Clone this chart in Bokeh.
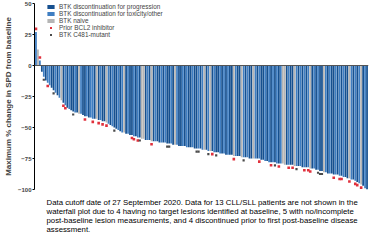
from bokeh.plotting import figure
from bokeh.models import Range1d, Span, Title, Legend, LegendItem, ColumnDataSource, FixedTicker
from bokeh.embed import file_html
from bokeh.resources import INLINE

# ---- data ----
values = [
    27, 13, 4, -5, -9, -12, -14, -16, -18, -20,
    -22, -24, -26, -28, -30, -32, -34, -35, -36, -37,
    -38, -38, -39, -39, -40, -41, -41, -42, -42, -43,
    -43, -43, -44, -44, -45, -45, -46, -47, -48, -49,
    -50, -51, -52, -53, -54, -54, -55, -55, -56, -56,
    -57, -57, -58, -58, -59, -59, -60, -60, -60, -61,
    -61, -61, -61, -62, -62, -62, -62, -63, -63, -63,
    -64, -64, -64, -65, -65, -65, -65, -66, -66, -66,
    -66, -67, -67, -67, -67, -68, -68, -68, -69, -69,
    -69, -70, -70, -70, -71, -71, -71, -72, -72, -72,
    -72, -73, -73, -73, -73, -74, -74, -74, -74, -75,
    -75, -75, -75, -75, -75, -76, -76, -77, -77, -78,
    -78, -78, -78, -79, -79, -79, -79, -80, -80, -80,
    -80, -80, -81, -81, -81, -81, -82, -82, -82, -82,
    -83, -83, -83, -84, -84, -85, -85, -86, -86, -87,
    -87, -87, -88, -88, -88, -89, -89, -90, -90, -91,
    -91, -92, -92, -93, -94, -95, -96, -97, -99, -100,
]
groups = list(
    "TNTPTPTTPP" "TPTNPTPTPP" "TPNTPPTPTT" "PNPTPPNTPT" "PPTPTNPTPP"
    "TPTPNNPTPN" "PTPPTPTPPT" "PNTPPTPTPP" "TPPTPTNPTN" "PTPPTPTPTP"
    "PNTPPNTPTP" "PNTPTPPTPT" "PTPTPTNNPT" "PPNTPTPTPT" "NPTPTPPNTP"
    "TPPTPTPTPP" "NTPTPTNPTP"
)
bcl2_idx = [0, 2, 6, 14, 15, 25, 29, 32, 34, 36, 49, 50, 52, 59, 90, 101, 114,
            120, 124, 129, 131, 137, 139, 140, 152, 155, 156, 160, 163, 164, 166]
c481_idx = [4, 9, 19, 40, 53, 67, 68, 82, 83, 88, 92, 106, 122, 133, 144, 145, 146]
y_ticks = [50, 25, 0, -25, -50, -75, -100]
group_keys = ["P", "T", "N"]
group_labels = ["BTK discontinuation for progression",
                "BTK discontinuation for toxicity/other",
                "BTK naive"]
marker_labels = ["Prior BCL2 inhibitor", "BTK C481-mutant"]
y_title = "Maximum % change in SPD from baseline"
footnote_lines = [
    "Data cutoff date of 27 September 2020. Data for 13 CLL/SLL patients are not shown in the",
    "waterfall plot due to 4 having no target lesions identified at baseline, 5 with no/incomplete",
    "post-baseline lesion measurements, and 4 discontinued prior to first post-baseline disease",
    "assessment.",
]

# ---- styles ----
COLORS = {"P": "#16508f", "T": "#3f7ec2", "N": "#b5b5b5"}
RED = "#e0303c"
DARK = "#4a4a4a"
FONT = "Liberation Sans"
n = len(values)

p = figure(width=369, height=240, output_backend="svg", toolbar_location=None,
           x_range=Range1d(-0.75, n - 0.25), y_range=Range1d(-100, 50),
           min_border_left=27, min_border_right=1, min_border_top=3, min_border_bottom=51)
p.outline_line_color = None
p.xgrid.visible = False
p.ygrid.visible = False
p.xaxis.visible = False

items = []
for key, lab in zip(group_keys, group_labels):
    idx = [i for i in range(n) if groups[i] == key]
    src = ColumnDataSource(dict(x=idx, top=[values[i] for i in idx]))
    r = p.vbar(x="x", top="top", bottom=0, width=0.9, source=src,
               fill_color=COLORS[key], line_color=None)
    items.append(LegendItem(label=lab, renderers=[r]))

def mark_y(i):
    return values[i] + 2.5 if values[i] > 0 else values[i] - 2.5

r1 = p.scatter(x=bcl2_idx, y=[mark_y(i) for i in bcl2_idx], marker="square",
               size=2.6, fill_color=RED, line_color=None)
r2 = p.scatter(x=c481_idx, y=[mark_y(i) for i in c481_idx], marker="square",
               size=2.2, fill_color=DARK, line_color=None)
items.append(LegendItem(label=marker_labels[0], renderers=[r1]))
items.append(LegendItem(label=marker_labels[1], renderers=[r2]))

p.add_layout(Span(location=0, dimension="width", line_color="#555555", line_width=1))

ax = p.yaxis[0]
ax.ticker = FixedTicker(ticks=y_ticks)
ax.axis_label = y_title
ax.axis_label_text_font = FONT
ax.axis_label_text_font_style = "bold"
ax.axis_label_text_font_size = "8px"
ax.axis_label_standoff = 2
ax.major_label_text_font = FONT
ax.major_label_text_font_style = "bold"
ax.major_label_text_font_size = "6px"
ax.major_label_standoff = 1
ax.major_tick_out = 2
ax.major_tick_in = 0
ax.minor_tick_out = 0
ax.minor_tick_in = 0
ax.axis_line_color = "black"
ax.major_tick_line_color = "black"

legend = Legend(items=items, location=(12, 151), label_text_font=FONT,
                label_text_font_size="6.4px", glyph_height=5, glyph_width=9,
                label_height=5, spacing=0, padding=0, margin=0, label_standoff=4,
                border_line_alpha=0, background_fill_alpha=0)
p.add_layout(legend)

p.add_layout(Title(text="\n".join(footnote_lines), align="left", offset=12, standoff=12,
                   text_font=FONT, text_font_size="7.8px", text_font_style="normal",
                   text_line_height=1.03, text_color="black"), "below")

open("out.html", "w").write(file_html(p, INLINE))
